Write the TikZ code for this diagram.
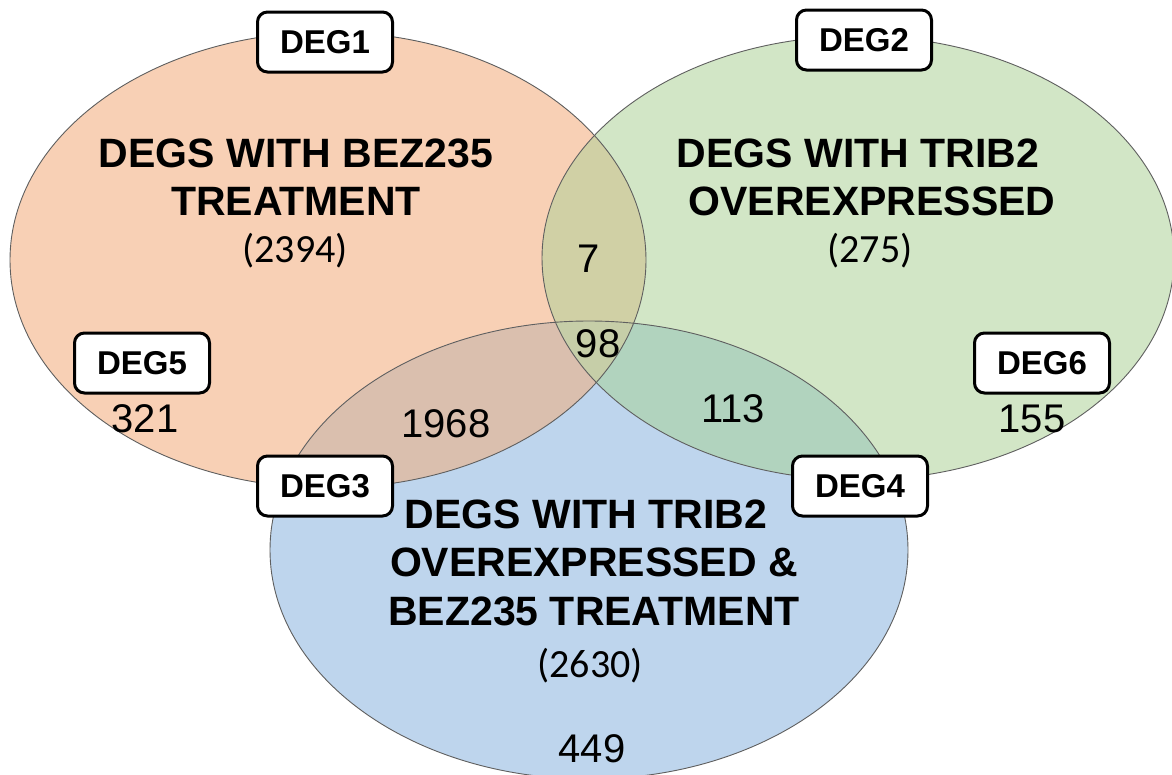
\documentclass[tikz,border=0pt]{standalone}
\usepackage{fontspec}
\setmainfont{Liberation Sans}
\newfontfamily\countfont{Carlito}

\definecolor{orfill}{RGB}{248,208,181}
\definecolor{grfill}{RGB}{210,230,198}
\definecolor{blfill}{RGB}{190,213,237}
\definecolor{ogfill}{RGB}{208,208,165}
\definecolor{obfill}{RGB}{218,191,174}
\definecolor{gbfill}{RGB}{177,211,190}
\definecolor{ogbfill}{RGB}{198,206,168}
\definecolor{rim}{RGB}{95,95,95}

% the three sets
\def\setorange{(328,260) ellipse [x radius=318pt, y radius=228pt]}
\def\setgreen{(858,258) ellipse [x radius=316pt, y radius=222pt]}
\def\setblue{(589,550) ellipse [x radius=319pt, y radius=229pt]}

\tikzset{
  degbox/.style={draw=black, line width=3pt, fill=white, rounded corners=10pt,
    minimum width=135pt, minimum height=60pt, inner sep=0pt,
    font=\fontsize{33}{36}\selectfont\bfseries},
  heading/.style={anchor=base, inner sep=0pt, font=\fontsize{41}{48}\selectfont\bfseries},
  total/.style={anchor=base, inner sep=0pt, font=\countfont\fontsize{40}{46}\selectfont},
  tally/.style={anchor=base, inner sep=0pt, font=\fontsize{40}{46}\selectfont},
  rimline/.style={draw=rim, line width=0.9pt}
}

\begin{document}
\begin{tikzpicture}[x=1pt, y=-1pt]
\useasboundingbox (0,0) rectangle (1172,774);
\fill[white] (0,0) rectangle (1172,774);

% plain fills
\fill[orfill] \setorange;
\fill[grfill] \setgreen;
\fill[blfill] \setblue;

% pairwise overlaps
\begin{scope}
  \clip \setorange;
  \fill[ogfill] \setgreen;
\end{scope}
\begin{scope}
  \clip \setorange;
  \fill[obfill] \setblue;
\end{scope}
\begin{scope}
  \clip \setgreen;
  \fill[gbfill] \setblue;
\end{scope}
% triple overlap
\begin{scope}
  \clip \setorange;
  \clip \setgreen;
  \fill[ogbfill] \setblue;
\end{scope}

% outlines
\draw[rimline] \setorange;
\draw[rimline] \setgreen;
\draw[rimline] \setblue;

% set headings
\node[heading] (h1a) at (296,167) {DEGS WITH BEZ235};
\node[heading] (h1b) at (296,215) {TREATMENT};
\node[total]   (n1)  at (295,262) {(2394)};

\node[heading] (h2a) at (858,167) {DEGS WITH TRIB2};
\node[heading] (h2b) at (872,215) {OVEREXPRESSED};
\node[total]   (n2)  at (870,262) {(275)};

\node[heading] (h3a) at (586,528) {DEGS WITH TRIB2};
\node[heading] (h3b) at (594,576) {OVEREXPRESSED \&};
\node[heading] (h3c) at (594,625) {BEZ235 TREATMENT};
\node[total]   (n3)  at (590,677) {(2630)};

% region counts
\node[tally] (c7)    at (589,272) {7};
\node[tally] (c98)   at (598,357) {98};
\node[tally] (c1968) at (446,437) {1968};
\node[tally] (c113)  at (733,422) {113};
\node[tally] (c321)  at (145,432) {321};
\node[tally] (c155)  at (1032,432) {155};
\node[tally] (c449)  at (592,762) {449};

% tags
\node[degbox] (deg1) at (325,42)  {DEG1};
\node[degbox] (deg2) at (864,40)  {DEG2};
\node[degbox] (deg5) at (142,363) {DEG5};
\node[degbox] (deg6) at (1042,363) {DEG6};
\node[degbox] (deg3) at (325,486) {DEG3};
\node[degbox] (deg4) at (860,486) {DEG4};
\end{tikzpicture}
\end{document}
